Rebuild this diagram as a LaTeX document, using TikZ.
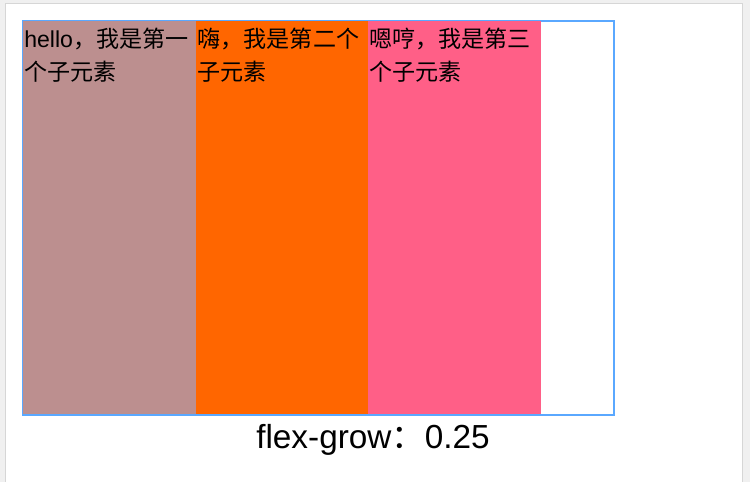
\documentclass[tikz,border=0pt]{standalone}
\usepackage{fontspec}
\setmainfont{Liberation Sans}
\newfontfamily\cjk{Noto Sans CJK SC}
\usetikzlibrary{positioning}
\newcommand\pxu{0.75pt}
\definecolor{pageGray}{HTML}{F0F0F0}
\definecolor{panelLine}{HTML}{D6D6D6}
\definecolor{boxBlue}{HTML}{5AA8FF}
\definecolor{itemA}{HTML}{BC8F8F}
\definecolor{itemB}{HTML}{FF6600}
\definecolor{itemC}{HTML}{FF5F87}
\tikzset{
    container/.style={
        rectangle, draw=boxBlue, line width=1.5pt,
        minimum width=591*\pxu, minimum height=394*\pxu,
        inner sep=0pt, anchor=north west
    },
    item/.style={
        rectangle, inner sep=0pt, fill=#1, draw=#1, line width=0.3pt,
        minimum height=392*\pxu
    },
    itemtext/.style={
        inner sep=0pt, anchor=north west, align=left,
        font=\fontsize{17.3pt}{24.75pt}\selectfont
    },
    caption/.style={
        inner sep=0pt, anchor=base,
        font=\fontsize{25pt}{29pt}\selectfont
    }
}

\begin{document}
\begin{tikzpicture}[x=0.75pt, y=-0.75pt]
    \useasboundingbox (0,0) rectangle (750,482);
    % page and panel
    \fill[pageGray] (0,0) rectangle (750,482);
    \filldraw[fill=white, draw=panelLine] (5,3) rectangle (742,490);

    \node[container] (box) at (22,20) {};
    \node[item=itemA, minimum width=173*\pxu, anchor=north west] (first) at (23,21) {};
    \node[item=itemB, minimum width=171*\pxu, right=0pt of first] (second) {};
    \node[item=itemC, minimum width=172*\pxu, right=0pt of second] (third) {};

    \node[itemtext] (firstText) at ([xshift=1*\pxu, yshift=-7*\pxu]first.north west)
        {hello{\cjk ，我是第一}\\{\cjk 个子元素}};
    \node[itemtext] (secondText) at ([xshift=1*\pxu, yshift=-7*\pxu]second.north west)
        {{\cjk 嗨，我是第二个}\\{\cjk 子元素}};
    \node[itemtext] (thirdText) at ([xshift=1*\pxu, yshift=-7*\pxu]third.north west)
        {{\cjk 嗯哼，我是第三}\\{\cjk 个子元素}};

    \node[caption] (growLabel) at (373,448) {flex-grow{\cjk ：}0.25};
\end{tikzpicture}
\end{document}
